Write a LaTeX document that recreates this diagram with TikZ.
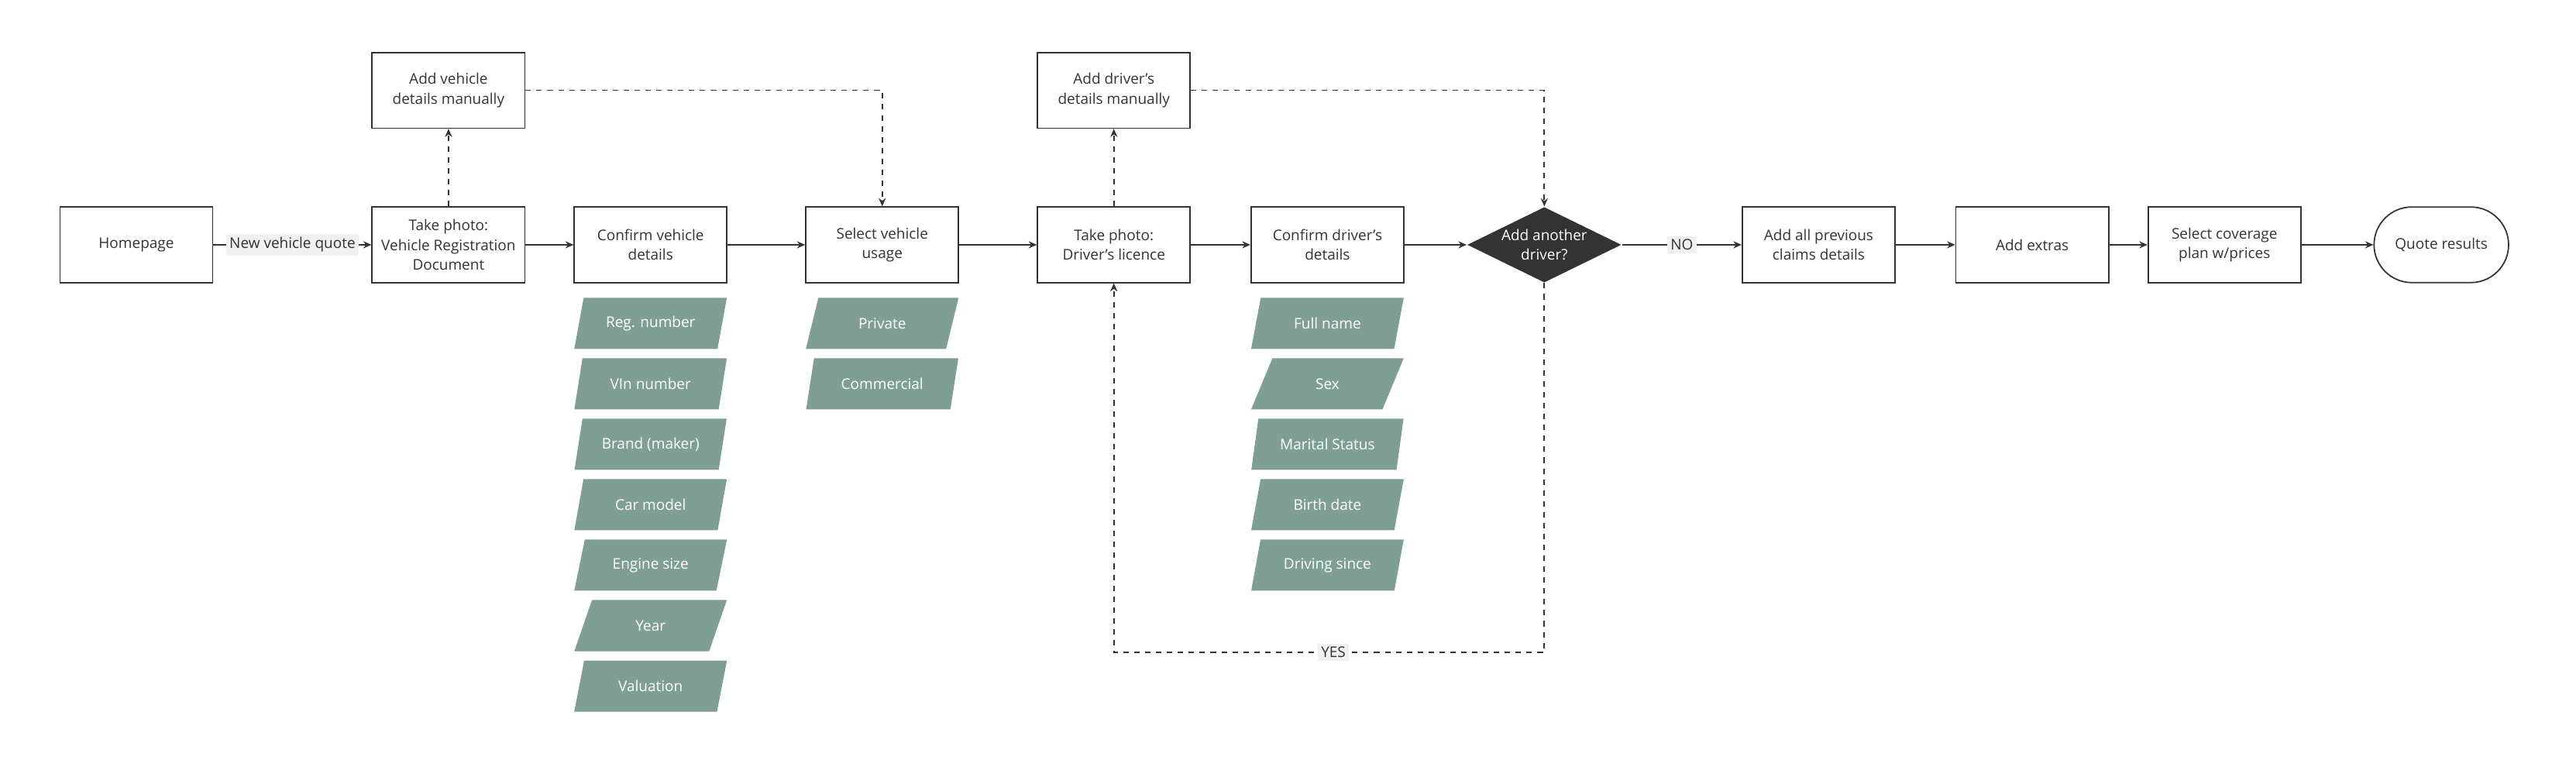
\documentclass[tikz,border=0pt]{standalone}
\usepackage{fontspec}
\setmainfont{Open Sans}
\usetikzlibrary{shapes.geometric, shapes.misc, arrows.meta, positioning}

\definecolor{sage}{HTML}{7F9F95}
\definecolor{ink}{HTML}{333333}

\begin{document}
\begin{tikzpicture}[x=0.0212cm, y=-0.0212cm,
    every node/.style={font=\fontsize{5.4}{7.2}\selectfont, align=center, text=ink},
    stepbox/.style={draw=ink, line width=0.5pt, minimum width=1.97cm, minimum height=0.975cm, inner sep=1pt},
    field/.style={trapezium, trapezium left angle=67, trapezium right angle=113, trapezium stretches=true,
        fill=sage, text=white, minimum width=1.97cm, minimum height=0.66cm, inner sep=0pt},
    flow/.style={draw=ink, line width=0.5pt, -{Stealth[length=3pt, width=2.6pt]}},
    alt/.style={flow, dash pattern=on 2pt off 2pt},
    tag/.style={fill=gray!12, inner sep=1.2pt}]

\useasboundingbox (0,0) rectangle (1568,471);

% main line
\node[stepbox] (home) at (83,149) {Homepage};
\node[stepbox] (vphoto) at (273,149) {Take photo:\\Vehicle Registration\\Document};
\node[stepbox] (vmanual) at (273,55) {Add vehicle\\details manually};
\node[stepbox] (vconfirm) at (396,149) {Confirm vehicle\\details};
\node[stepbox] (vusage) at (537,149) {Select vehicle\\usage};
\node[stepbox] (dphoto) at (678,149) {Take photo:\\Driver's licence};
\node[stepbox] (dmanual) at (678,55) {Add driver's\\details manually};
\node[stepbox] (dconfirm) at (808,149) {Confirm driver's\\details};
\node[diamond, fill=ink, minimum width=1.99cm, minimum height=0.975cm, inner sep=0pt] (ask) at (940,149) {};
\node[text=white] at (ask) {Add another\\driver?};
\node[stepbox] (claims) at (1107,149) {Add all previous\\claims details};
\node[stepbox] (extras) at (1237,149) {Add extras};
\node[stepbox] (plan) at (1354,149) {Select coverage\\plan w/prices};
\node[rounded rectangle, draw=ink, line width=0.5pt, minimum width=1.97cm, minimum height=0.975cm] (quote) at (1486,149) {Quote results};

% vehicle fields
\foreach \label [count=\i] in {Reg. number, VIn number, Brand (maker), Car model, Engine size, Year, Valuation}
    \node[field] (vf\i) at (396,{160+36.8*\i}) {\label};

% usage fields
\node[field] (private) at (537,196.8) {Private};
\node[field] (commercial) at (537,233.6) {Commercial};

% driver fields
\foreach \label [count=\i] in {Full name, Sex, Marital Status, Birth date, Driving since}
    \node[field] (df\i) at (808,{160+36.8*\i}) {\label};

\draw[flow] (home) -- node[tag] {New vehicle quote} (vphoto);
\draw[flow] (vphoto) -- (vconfirm);
\draw[flow] (vconfirm) -- (vusage);
\draw[flow] (vusage) -- (dphoto);
\draw[flow] (dphoto) -- (dconfirm);
\draw[flow] (dconfirm) -- (ask);
\draw[flow] (ask) -- node[tag, pos=0.5] {NO} (claims);
\draw[flow] (claims) -- (extras);
\draw[flow] (extras) -- (plan);
\draw[flow] (plan) -- (quote);

% manual fallbacks
\draw[alt] (vphoto) -- (vmanual);
\draw[alt] (vmanual) -| (vusage);
\draw[alt] (dphoto) -- (dmanual);
\draw[alt] (dmanual) -| (ask);

\coordinate (again) at (940,397);
\draw[alt] (ask) -- (again) -| node[tag, pos=0.245] {YES} (dphoto);

\end{tikzpicture}
\end{document}
